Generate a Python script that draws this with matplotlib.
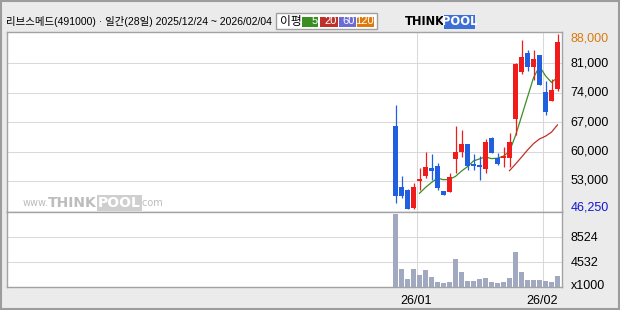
import matplotlib
matplotlib.use('Agg')
import matplotlib.pyplot as plt
import numpy as np
import pandas as pd
from matplotlib.patches import Rectangle
from matplotlib.transforms import blended_transform_factory

# ---------------- data ----------------
dates = ['2025-12-24', '2025-12-26', '2025-12-29', '2025-12-30',
         '2026-01-02', '2026-01-05', '2026-01-06', '2026-01-07', '2026-01-08', '2026-01-09',
         '2026-01-12', '2026-01-13', '2026-01-14', '2026-01-15', '2026-01-16',
         '2026-01-19', '2026-01-20', '2026-01-21', '2026-01-22', '2026-01-23',
         '2026-01-26', '2026-01-27', '2026-01-28', '2026-01-29', '2026-01-30',
         '2026-02-02', '2026-02-03', '2026-02-04']
opens = [66100, 51600, 50800, 46600, 53000, 54250, 56100, 56650, 50600, 50450,
         58300, 59850, 61800, 57050, 56800, 55950, 63250, 58550, 58550, 58550,
         67850, 79000, 83500, 80200, 83000, 74200, 72100, 75000]
highs = [71100, 54200, 51000, 52450, 56150, 60000, 59450, 57300, 50700, 54900,
         66100, 65150, 61850, 59350, 58950, 63000, 63450, 59600, 61150, 64350,
         81000, 86550, 84250, 84250, 83100, 76750, 77300, 88000]
lows = [47800, 49000, 46250, 46400, 50900, 53650, 53150, 50900, 49700, 50450,
        54850, 58800, 55600, 55600, 53250, 54850, 59600, 56800, 56400, 56400,
        64000, 78400, 79100, 77100, 75900, 68800, 72000, 74350]
closes = [49500, 49500, 46300, 51600, 53500, 56400, 55450, 51400, 49750, 54000,
          59900, 61800, 56650, 56550, 56400, 62300, 59750, 57100, 59000, 62300,
          80850, 82500, 80200, 82050, 75950, 69500, 74650, 86100]
volumes = [12250, 3415, 1818, 3415, 2456, 3255, 2137, 1339, 1179, 1339,
           5012, 2936, 1498, 1498, 1818, 1977, 1339, 1179, 1339, 1977,
           6130, 2936, 1658, 1658, 1658, 1498, 1339, 2297]   # x1000 shares
price_ticks = [53000, 60000, 67000, 74000, 81000]
vol_ticks = [4532, 8524]
ma_periods = [5, 20, 60, 120]
title = '리브스메드(491000) · 일간(28일) 2025/12/24 ~ 2026/02/04'

# ---------------- style ----------------
W, H = 620, 310
BG = '#ebebeb'
UP = '#f01c1c'
DOWN = '#1f5fe0'
VOLC = '#a1a9c0'
GRID = '#d9d9d9'
FRAME = '#a3a3a3'
MA_COL = {5: '#3b8f22', 20: '#c0302a', 60: '#6b6bd8', 120: '#de7a0c'}
NUMFONT = ['Liberation Sans', 'DejaVu Sans']
KFONT = ['Liberation Sans', 'Noto Sans CJK KR', 'DejaVu Sans']

fig = plt.figure(figsize=(W / 100, H / 100), dpi=100, facecolor=BG)


def fx(x):
    return x / W


def fy(y):
    return 1 - y / H


# panel geometry in pixels (top-left origin)
L, R = 7.3, 562.3
PT, PB = 31.5, 212.3
VB = 287.3

axp = fig.add_axes([fx(L), fy(PB), fx(R - L), (PB - PT) / H])
axv = fig.add_axes([fx(L), fy(VB), fx(R - L), (VB - PB) / H])

n = len(closes)
x = np.arange(n)
xlim = ((L - 395.5) / 6.0, (R - 395.5) / 6.0)

# ------------- price panel -------------
p_lo, p_hi = 45547, 88596
axp.set_xlim(*xlim)
axp.set_ylim(p_lo, p_hi)
axp.set_facecolor('white')
for v in price_ticks:
    axp.axhline(v, color=GRID, lw=0.75, zorder=0)

# month boundaries
d = pd.to_datetime(pd.Series(dates))
month_idx = [i for i in range(1, n) if d[i].month != d[i - 1].month]
for i in month_idx:
    axp.axvline(i - 0.5, color=GRID, lw=0.75, zorder=0)
    axv.axvline(i - 0.5, color=GRID, lw=0.75, zorder=0)

o = np.array(opens); c = np.array(closes); hi = np.array(highs); lo = np.array(lows)
cols = [UP if cc >= oo else DOWN for oo, cc in zip(o, c)]
axp.vlines(x, lo, hi, colors=cols, lw=0.9, zorder=3)
body_lo = np.minimum(o, c)
body_h = np.maximum(np.abs(c - o), 250)
axp.bar(x, body_h, bottom=body_lo, width=0.82, color=cols, edgecolor='none', zorder=4)

# moving averages
cs = pd.Series(closes)
for p in ma_periods:
    ma = cs.rolling(p).mean()
    if ma.notna().any():
        axp.plot(x, ma, color=MA_COL[p], lw=0.9, zorder=2)

for s in axp.spines.values():
    s.set_color(FRAME); s.set_linewidth(1.0)
axp.set_xticks([]); axp.set_yticks([])

# watermark
wy = fy(203)
fig.text(fx(23), wy, 'www.', fontsize=7, color='#bcbcbc', va='center', ha='left',
         family='DejaVu Sans', zorder=5)
fig.text(fx(48), wy, 'THINK', fontsize=10, color='#bdbdbd', va='center', ha='left',
         family='DejaVu Sans', weight='bold', zorder=5)
fig.text(fx(98), wy, 'POOL', fontsize=10, color='white', va='center', ha='left',
         family='DejaVu Sans', weight='bold', zorder=6,
         bbox=dict(boxstyle='square,pad=0.08', fc='#cfcfcf', ec='none'))
fig.text(fx(139), wy, '.com', fontsize=7, color='#bcbcbc', va='center', ha='left',
         family='DejaVu Sans', zorder=5)

# ------------- volume panel -------------
v_lo, v_hi = 540, 12516
axv.set_xlim(*xlim)
axv.set_ylim(v_lo, v_hi)
axv.set_facecolor('white')
for v in vol_ticks:
    axv.axhline(v, color=GRID, lw=0.75, zorder=0)
axv.bar(x, volumes, width=0.82, color=VOLC, edgecolor='none', zorder=3)
for s in axv.spines.values():
    s.set_color(FRAME); s.set_linewidth(1.0)
axv.set_xticks([]); axv.set_yticks([])

# month labels
trx = blended_transform_factory(axv.transData, fig.transFigure)
for i in month_idx:
    fig.text(i - 0.5, fy(301), d[i].strftime('%y/%m'), transform=trx, ha='center', va='center',
             fontsize=9, color='black', family=NUMFONT)

# ------------- right labels -------------
lab_x = fx(570.7)
trp = blended_transform_factory(fig.transFigure, axp.transData)
upp = (p_hi - p_lo) / (PB - PT)  # price units per pixel
for v in price_ticks:
    fig.text(lab_x, v, f'{v:,}', transform=trp, ha='left', va='center', fontsize=9,
             color='black', family=NUMFONT)
max_h = max(highs); min_l = min(lows)
fig.text(lab_x, min(max_h, p_hi - 6.8 * upp), f'{max_h:,}', transform=trp, ha='left',
         va='center', fontsize=9, color='#d97a12', family=NUMFONT)
fig.text(lab_x, max(min_l, p_lo + 5 * upp), f'{min_l:,}', transform=trp, ha='left',
         va='center', fontsize=9, color='#1414d2', family=NUMFONT)

trv = blended_transform_factory(fig.transFigure, axv.transData)
vpp = (v_hi - v_lo) / (VB - PB)
for v in vol_ticks:
    fig.text(lab_x, v - 0.5 * vpp, f'{v}', transform=trv, ha='left', va='center', fontsize=9,
             color='black', family=NUMFONT)
fig.text(lab_x, v_lo + 1.6 * vpp, 'x1000', transform=trv, ha='left', va='center', fontsize=9,
         color='black', family=NUMFONT)

# ------------- header -------------
fig.text(fx(6), fy(21.5), title, ha='left', va='center', fontsize=7.5, color='black', family=KFONT)

# MA legend box
fig.patches.append(Rectangle((fx(276), fy(29.3)), fx(101), (29.3 - 12.7) / H,
                             transform=fig.transFigure, fc='white', ec='#a0a0a0', lw=1.0))
fig.text(fx(280), fy(21.3), '이평', ha='left', va='center', fontsize=8.5, color='black',
         family=['Noto Sans CJK KR', 'DejaVu Sans'])
box_x = [301.7, 320.0, 339.0, 357.3]
box_w = [16.6, 17.7, 17.0, 17.0]
for p, bx, bw in zip(ma_periods, box_x, box_w):
    fig.patches.append(Rectangle((fx(bx), fy(26.7)), fx(bw), 10 / H, transform=fig.transFigure,
                                 fc=MA_COL[p], ec='none'))
    fig.text(fx(bx + bw - 1), fy(21.5), str(p), ha='right', va='center', fontsize=8,
             color='white', family=NUMFONT)

# THINKPOOL logo
fig.text(fx(405), fy(21.5), 'THINK', ha='left', va='center', fontsize=8.3, color='black',
         family='DejaVu Sans', weight='bold')
fig.patches.append(Rectangle((fx(443.5), fy(29)), fx(31.5), 14.5 / H, transform=fig.transFigure,
                             fc='#3d6fd6', ec='none'))
fig.text(fx(459.2), fy(21.8), 'POOL', ha='center', va='center', fontsize=8.3, color='white',
         family='DejaVu Sans', weight='bold')

# outer border
fig.patches.append(Rectangle((0.0015, 0.003), 0.997, 0.994, transform=fig.transFigure,
                             fc='none', ec='#9c9c9c', lw=1.5))

fig.savefig('out.png', dpi=100, facecolor=BG)
